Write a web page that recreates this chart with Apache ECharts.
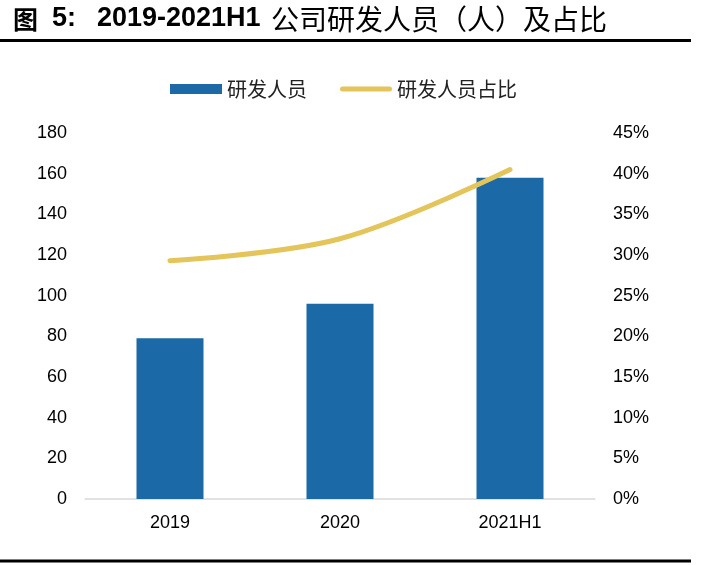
<!DOCTYPE html>
<html><head><meta charset="utf-8">
<script src="https://cdn.jsdelivr.net/npm/echarts@6/dist/echarts.min.js"></script>
<style>html,body{margin:0;padding:0;background:#fff;}#c{width:701px;height:565px;}</style>
</head><body><div id="c"></div>
<script>
const categories = ['2019', '2020', '2021H1'];
const staff = [79, 96, 158];
const staffRatio = [29.3, 32.0, 40.5];
const leftTicks = [0, 20, 40, 60, 80, 100, 120, 140, 160, 180];

const chart = echarts.init(document.getElementById('c'));
const latin = '"Liberation Sans", Arial, sans-serif';
const cjk = '"Noto Sans CJK SC", sans-serif';
chart.setOption({
  animation: false,
  graphic: [
    { type: 'text', x: 13, y: 19, style: { text: '图', font: 'bold 25px ' + cjk, fill: '#000', verticalAlign: 'middle' } },
    { type: 'text', x: 52, y: 19, style: { text: '5:', font: 'bold 27px ' + latin, fill: '#000', verticalAlign: 'middle' } },
    { type: 'text', x: 97, y: 19, style: { text: '2019-2021H1', font: 'bold 27px ' + latin, fill: '#000', verticalAlign: 'middle' } },
    { type: 'text', x: 271, y: 19, style: { text: '公司研发人员（人）及占比', font: '28px ' + cjk, fill: '#000', verticalAlign: 'middle' } },
    { type: 'rect', shape: { x: 0, y: 39, width: 691, height: 3 }, style: { fill: '#000' } },
    { type: 'rect', shape: { x: 0, y: 559.5, width: 691, height: 3 }, style: { fill: '#000' } }
  ],
  legend: {
    top: 74, left: 165, itemGap: 33, itemWidth: 52, itemHeight: 10,
    textStyle: { fontSize: 20, color: '#222', fontFamily: cjk },
    data: [
      { name: '研发人员', icon: 'rect' },
      { name: '研发人员占比', icon: 'path://M2.5,0 L49.5,0 A2.5,2.5 0 0 1 49.5,5 L2.5,5 A2.5,2.5 0 0 1 2.5,0 Z', itemStyle: { color: '#E3C55C' } }
    ]
  },
  grid: { left: 85, right: 106, top: 133, bottom: 66 },
  xAxis: {
    type: 'category', data: categories,
    axisLine: { lineStyle: { color: '#d9d9d9', width: 1.5 } },
    axisTick: { show: false },
    axisLabel: { fontSize: 18, color: '#000', margin: 15, fontFamily: latin }
  },
  yAxis: [
    { type: 'value', min: 0, max: 180, interval: 20,
      axisLine: { show: false }, axisTick: { show: false }, splitLine: { show: false },
      axisLabel: { fontSize: 18, color: '#000', margin: 18, fontFamily: latin } },
    { type: 'value', min: 0, max: 45, interval: 5,
      axisLine: { show: false }, axisTick: { show: false }, splitLine: { show: false },
      axisLabel: { fontSize: 18, color: '#000', margin: 18, formatter: '{value}%', fontFamily: latin } }
  ],
  series: [
    { name: '研发人员', type: 'bar', data: staff, barWidth: 67, itemStyle: { color: '#1B69A6' } },
    { name: '研发人员占比', type: 'line', yAxisIndex: 1, data: staffRatio, smooth: 0.35,
      symbol: 'none', lineStyle: { color: '#E3C55C', width: 5, cap: 'round' }, itemStyle: { color: '#E3C55C' } }
  ]
});
</script></body></html>
